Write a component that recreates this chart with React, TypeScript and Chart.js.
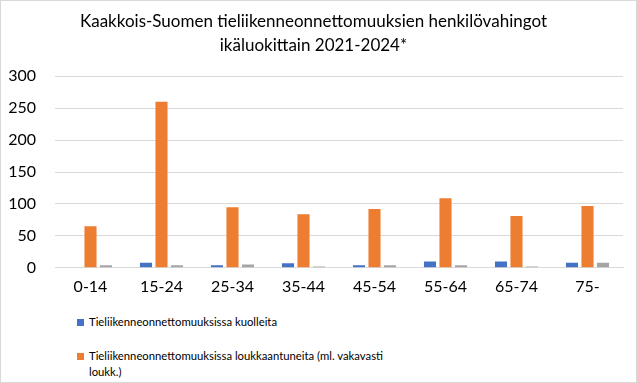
import React, { useEffect, useRef } from "react";
import { Chart, registerables } from "chart.js";

Chart.register(...registerables);

const titleLines = [
  "Kaakkois-Suomen tieliikenneonnettomuuksien henkilövahingot",
  "ikäluokittain 2021-2024*",
];
const categories = ["0-14", "15-24", "25-34", "35-44", "45-54", "55-64", "65-74", "75-"];
const kuolleita = [0, 8, 4, 7, 4, 10, 10, 8];
const loukkaantuneita = [65, 260, 95, 84, 92, 109, 81, 97];
const kolmas = [4, 4, 5, 2, 4, 4, 2, 8];
const seriesNames = [
  "Tieliikenneonnettomuuksissa kuolleita",
  "Tieliikenneonnettomuuksissa loukkaantuneita (ml. vakavasti loukk.)",
  "Muut",
];
const yTicks = [0, 50, 100, 150, 200, 250, 300];
const colors = ["#4472C4", "#ED7D31", "#A5A5A5"];

const FONT = "Lato, 'Liberation Sans', sans-serif";

export default function App() {
  const ref = useRef<HTMLCanvasElement | null>(null);
  useEffect(() => {
    document.body.style.margin = "0";
    if (!ref.current) return;
    const chart = new Chart(ref.current, {
      type: "bar",
      data: {
        labels: categories,
        datasets: [kuolleita, loukkaantuneita, kolmas].map((d, i) => ({
          label: seriesNames[i],
          data: d,
          backgroundColor: colors[i],
          categoryPercentage: 0.655,
          barPercentage: 0.78,
        })),
      },
      options: {
        animation: false,
        responsive: false,
        maintainAspectRatio: false,
        layout: { padding: { left: 3, right: 13, top: 0, bottom: 0 } },
        plugins: {
          legend: { display: false },
          tooltip: { enabled: false },
          title: {
            display: true,
            text: titleLines,
            color: "#000",
            font: { family: FONT, size: 17, weight: "normal", lineHeight: 1.45 },
            padding: { top: 8, bottom: 18 },
          },
        },
        scales: {
          x: {
            grid: { display: false },
            border: { color: "#d9d9d9" },
            ticks: { color: "#000", font: { family: FONT, size: 16 }, padding: 1 },
          },
          y: {
            min: 0,
            max: 300,
            afterBuildTicks: (s: any) => {
              s.ticks = yTicks.map((v) => ({ value: v }));
            },
            afterFit: (s: any) => {
              s.width = 51;
            },
            grid: { color: "#d9d9d9", drawTicks: false },
            border: { display: false },
            ticks: { color: "#000", font: { family: FONT, size: 16 }, padding: 19 },
          },
        },
      },
    });
    return () => chart.destroy();
  }, []);

  return (
    <div
      style={{
        position: "relative",
        width: 637,
        height: 383,
        boxSizing: "border-box",
        border: "1px solid #d9d9d9",
        background: "#fff",
        fontFamily: FONT,
        overflow: "hidden",
      }}
    >
      <canvas ref={ref} width={635} height={296} style={{ position: "absolute", left: 0, top: 0 }} />
      {[0, 1].map((i) => (
        <div
          key={i}
          style={{
            position: "absolute",
            left: 76,
            top: i === 0 ? 313 : 347,
            width: 312,
            fontSize: 11.3,
            lineHeight: "16px",
            color: "#000",
            display: "flex",
            alignItems: "flex-start",
          }}
        >
          <span
            style={{
              display: "inline-block",
              width: 7,
              height: 7,
              background: colors[i],
              marginTop: 5,
              marginRight: 5,
              flex: "0 0 auto",
            }}
          />
          <span>{seriesNames[i]}</span>
        </div>
      ))}
    </div>
  );
}
